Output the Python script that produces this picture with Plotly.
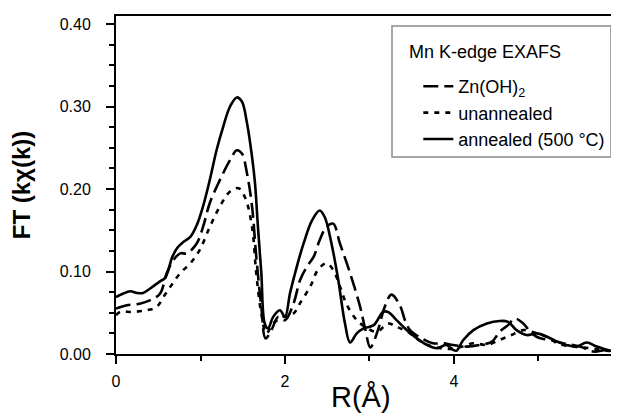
import plotly.graph_objects as go

# ---- data ----
r_annealed = [0.00, 0.08, 0.17, 0.25, 0.32, 0.44, 0.52, 0.58, 0.62, 0.66, 0.72, 0.80, 0.88, 0.955,
              1.03, 1.11, 1.19, 1.27, 1.35, 1.43, 1.49, 1.55, 1.61, 1.645, 1.68, 1.72, 1.76, 1.80,
              1.86, 1.94, 2.00, 2.06, 2.14, 2.22, 2.32, 2.41, 2.47, 2.55, 2.63, 2.71, 2.77, 2.85,
              2.93, 3.05, 3.16, 3.22, 3.32, 3.44, 3.56, 3.68, 3.80, 3.91, 3.99, 4.03, 4.11, 4.23,
              4.39, 4.54, 4.64, 4.74, 4.86, 4.98, 5.10, 5.22, 5.33, 5.45, 5.57, 5.69, 5.81, 5.92, 6.00]
ft_annealed = [0.069, 0.073, 0.076, 0.074, 0.074, 0.082, 0.088, 0.092, 0.102, 0.116, 0.128, 0.136, 0.142, 0.156,
               0.179, 0.211, 0.247, 0.276, 0.300, 0.311, 0.306, 0.280, 0.239, 0.207, 0.154, 0.098, 0.037, 0.031,
               0.045, 0.053, 0.045, 0.074, 0.106, 0.134, 0.162, 0.174, 0.166, 0.134, 0.090, 0.037, 0.014, 0.025,
               0.031, 0.035, 0.051, 0.051, 0.041, 0.029, 0.019, 0.011, 0.007, 0.011, 0.005, 0.004, 0.017, 0.029,
               0.037, 0.040, 0.039, 0.029, 0.023, 0.025, 0.021, 0.015, 0.011, 0.009, 0.014, 0.009, 0.005, 0.003, 0.003]

r_znoh2 = [0.00, 0.13, 0.28, 0.40, 0.52, 0.60, 0.68, 0.76, 0.84, 0.955, 1.03, 1.11, 1.23, 1.35, 1.43,
           1.49, 1.55, 1.61, 1.66, 1.72, 1.77, 1.84, 1.92, 2.00, 2.10, 2.18, 2.26, 2.34, 2.41, 2.49,
           2.57, 2.65, 2.77, 2.89, 2.95, 3.01, 3.10, 3.18, 3.26, 3.36, 3.42, 3.48, 3.60, 3.75, 3.87,
           3.99, 4.15, 4.31, 4.45, 4.54, 4.64, 4.72, 4.82, 4.92, 5.02, 5.14, 5.29, 5.49, 5.65, 5.81, 6.00]
ft_znoh2 = [0.055, 0.059, 0.061, 0.065, 0.073, 0.098, 0.114, 0.122, 0.122, 0.134, 0.154, 0.183, 0.211, 0.235, 0.247,
            0.243, 0.219, 0.179, 0.118, 0.057, 0.019, 0.029, 0.045, 0.041, 0.061, 0.090, 0.106, 0.118, 0.138, 0.154,
            0.158, 0.134, 0.098, 0.057, 0.030, 0.008, 0.029, 0.057, 0.072, 0.059, 0.041, 0.029, 0.020, 0.013, 0.013,
            0.011, 0.009, 0.011, 0.015, 0.027, 0.035, 0.043, 0.037, 0.025, 0.019, 0.017, 0.013, 0.009, 0.003, 0.005, 0.003]

r_unannealed = [0.00, 0.05, 0.20, 0.36, 0.48, 0.58, 0.66, 0.76, 0.88, 0.99, 1.11, 1.23, 1.35, 1.45, 1.53,
                1.61, 1.66, 1.72, 1.78, 1.86, 1.98, 2.10, 2.18, 2.30, 2.39, 2.49, 2.57, 2.65, 2.73, 2.85,
                2.95, 3.09, 3.22, 3.32, 3.48, 3.64, 3.80, 3.95, 4.10, 4.23, 4.39, 4.54, 4.68, 4.82, 4.98,
                5.14, 5.22, 5.41, 5.61, 5.81, 6.00]
ft_unannealed = [0.047, 0.051, 0.051, 0.053, 0.057, 0.072, 0.084, 0.098, 0.110, 0.126, 0.154, 0.179, 0.197, 0.201, 0.189,
                 0.154, 0.098, 0.049, 0.025, 0.037, 0.045, 0.049, 0.062, 0.082, 0.102, 0.110, 0.102, 0.082, 0.060, 0.041,
                 0.033, 0.027, 0.037, 0.033, 0.025, 0.013, 0.008, 0.006, 0.009, 0.013, 0.011, 0.017, 0.023, 0.029, 0.025,
                 0.019, 0.013, 0.009, 0.007, 0.004, 0.003]

series_names = ["Zn(OH)<sub>2</sub>", "unannealed", "annealed (500 °C)"]
legend_title = "Mn K-edge EXAFS"
x_title = "R(Å)"
y_title = "FT (kχ(k))"

FONT = "Liberation Sans, Arial, sans-serif"

fig = go.Figure()
fig.add_trace(go.Scatter(x=r_znoh2, y=ft_znoh2, mode="lines", name=series_names[0],
                         line=dict(color="black", width=2.6, dash="15px,6px"),
                         line_shape="spline"))
fig.add_trace(go.Scatter(x=r_unannealed, y=ft_unannealed, mode="lines", name=series_names[1],
                         line=dict(color="black", width=2.6, dash="5px,6px"),
                         line_shape="spline"))
fig.add_trace(go.Scatter(x=r_annealed, y=ft_annealed, mode="lines", name=series_names[2],
                         line=dict(color="black", width=2.6),
                         line_shape="spline"))

# legend frame and title
fig.add_shape(type="rect", xref="paper", yref="paper",
              x0=0.5487, x1=0.9841, y0=0.5828, y1=0.9704,
              line=dict(color="#8a8a8a", width=1.5), fillcolor="rgba(0,0,0,0)")
fig.add_annotation(text=legend_title, xref="paper", yref="paper", x=0.579, y=0.928,
                   xanchor="left", yanchor="top", showarrow=False,
                   font=dict(family=FONT, size=18, color="black"))
# x-axis title
fig.add_annotation(text=x_title, xref="paper", yref="paper", x=0.487, y=-0.128,
                   xanchor="center", yanchor="middle", showarrow=False,
                   font=dict(family=FONT, size=29, color="black"))

# page body has an 8px margin: figure sized so it ends exactly at the window edge
fig.update_layout(
    width=611, height=406,
    margin=dict(l=108, r=0, t=8, b=60, autoexpand=False),
    paper_bgcolor="white", plot_bgcolor="white",
    font=dict(family=FONT, color="black"),
    showlegend=True,
    legend=dict(x=0.601, y=0.846, xanchor="left", yanchor="top",
                bgcolor="rgba(0,0,0,0)", borderwidth=0,
                font=dict(family=FONT, size=18, color="black"),
                tracegroupgap=0, itemwidth=30),
    xaxis=dict(range=[0, 5.953], showgrid=False, zeroline=False, automargin=False,
               showline=True, linecolor="black", linewidth=2, mirror=True,
               ticks="outside", ticklen=8, tickwidth=1.5, tickcolor="black",
               tickvals=[0, 2, 4, 6], ticktext=["0", "2", "4", "6"], ticklabelstandoff=4,
               minor=dict(tickvals=[1, 3, 5], ticks="outside", ticklen=5, tickwidth=1.5, tickcolor="black"),
               tickfont=dict(family=FONT, size=16, color="black")),
    yaxis=dict(range=[0, 0.4097], showgrid=False, zeroline=False, automargin=False,
               showline=True, linecolor="black", linewidth=2, mirror=False,
               ticks="outside", ticklen=8, tickwidth=1.5, tickcolor="black",
               tickvals=[0, 0.1, 0.2, 0.3, 0.4], tickformat=".2f", ticklabelstandoff=12,
               minor=dict(dtick=0.025, ticks="outside", ticklen=5, tickwidth=1.5, tickcolor="black"),
               tickfont=dict(family=FONT, size=16, color="black"),
               title=dict(text="<b>" + y_title + "</b>", font=dict(family=FONT, size=24, color="black"), standoff=23)),
)

fig.write_html("out.html")
